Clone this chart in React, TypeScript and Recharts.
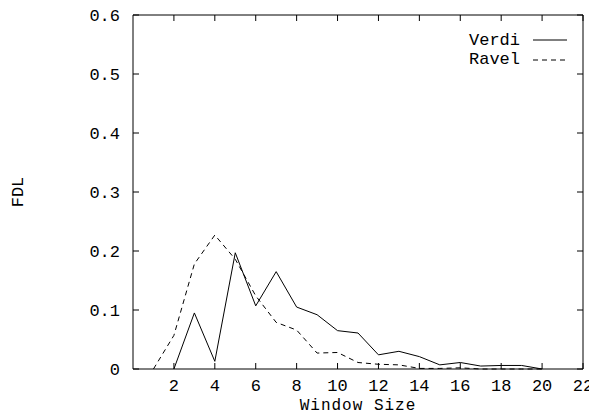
import { LineChart, Line, XAxis, YAxis, Legend } from 'recharts';

const windowSizes = [1, 2, 3, 4, 5, 6, 7, 8, 9, 10, 11, 12, 13, 14, 15, 16, 17, 18, 19, 20];
const verdiValues = [null, 0, 0.095, 0.013, 0.197, 0.107, 0.165, 0.105, 0.092, 0.065, 0.061, 0.024, 0.03, 0.021, 0.007, 0.011, 0.005, 0.006, 0.006, 0];
const ravelValues = [0, 0.057, 0.178, 0.227, 0.186, 0.124, 0.079, 0.066, 0.027, 0.028, 0.011, 0.008, 0.007, 0.001, 0.001, 0.002, 0, 0, 0, 0];

const xTicks = [2, 4, 6, 8, 10, 12, 14, 16, 18, 20, 22];
const yTicks = [0, 0.1, 0.2, 0.3, 0.4, 0.5, 0.6];

// Verdi hangs off the mirror axes (top/right) so they get drawn; same domains, so same placement
const series = [
  { key: 'verdi', name: 'Verdi', dash: undefined, xAxisId: 'top', yAxisId: 'right' },
  { key: 'ravel', name: 'Ravel', dash: '5 4', xAxisId: 'bottom', yAxisId: 'left' },
];

const data = windowSizes.map((x, i) => ({ x, verdi: verdiValues[i], ravel: ravelValues[i] }));

const FONT = "'Liberation Mono', 'Courier New', monospace";
const FONT_SIZE = 17;
const tickStyle = { fill: '#000', fontSize: FONT_SIZE, fontFamily: FONT };

const noTick = () => <g />;

const yFormat = (v: number) => (v === 0 ? '0' : v.toFixed(1));

const renderYLabel = (props: any) => {
  const { x, y, height } = props.viewBox;
  const cx = x + 10;
  const cy = y + height / 2;
  return (
    <text
      x={cx}
      y={cy}
      transform={`rotate(-90, ${cx}, ${cy})`}
      textAnchor='middle'
      dominantBaseline='central'
      fill='#000'
      fontSize={FONT_SIZE}
      fontFamily={FONT}
    >
      FDL
    </text>
  );
};

const renderLegend = () => (
  <svg width={200} height={50}>
    {series.map((s, i) => (
      <g key={s.key}>
        <text x={142} y={22 + i * 19} textAnchor='end' fontSize={FONT_SIZE} fontFamily={FONT} fill='#000'>
          {s.name}
        </text>
        <line x1={155} x2={189} y1={17 + i * 20} y2={17 + i * 20} stroke='#000' strokeWidth={1} strokeDasharray={s.dash} />
      </g>
    ))}
  </svg>
);

const App = () => {
  return (
    <LineChart width={589} height={406} data={data} margin={{ top: 6, right: 13, bottom: 0, left: 0 }}>
      <XAxis
        xAxisId='bottom'
        dataKey='x'
        type='number'
        domain={[0, 22]}
        ticks={xTicks}
        interval={0}
        height={45}
        stroke='#000'
        tickSize={-6}
        tickMargin={16}
        tick={tickStyle}
        label={{
          value: 'Window Size',
          position: 'insideBottom',
          offset: 4,
          fill: '#000',
          fontSize: 16,
          letterSpacing: 1,
          fontFamily: FONT,
        }}
      />
      <XAxis
        xAxisId='top'
        dataKey='x'
        orientation='top'
        type='number'
        domain={[0, 22]}
        ticks={xTicks}
        interval={0}
        height={1}
        stroke='#000'
        tickSize={-6}
        tick={noTick}
      />
      <YAxis
        yAxisId='left'
        type='number'
        domain={[0, 0.6]}
        ticks={yTicks}
        interval={0}
        width={125}
        stroke='#000'
        tickSize={-6}
        tickMargin={19}
        tick={tickStyle}
        tickFormatter={yFormat}
        label={renderYLabel}
      />
      <YAxis
        yAxisId='right'
        orientation='right'
        type='number'
        domain={[0, 0.6]}
        ticks={yTicks}
        interval={0}
        width={1}
        stroke='#000'
        tickSize={-6}
        tick={noTick}
      />
      <Legend
        layout='horizontal'
        verticalAlign='middle'
        align='center'
        content={renderLegend}
        wrapperStyle={{ top: 15, left: 370, width: 200, height: 50 }}
      />
      {series.map(s => (
        <Line
          key={s.key}
          xAxisId={s.xAxisId}
          yAxisId={s.yAxisId}
          dataKey={s.key}
          name={s.name}
          type='linear'
          stroke='#000'
          strokeWidth={1}
          strokeDasharray={s.dash}
          dot={false}
          activeDot={false}
          isAnimationActive={false}
        />
      ))}
    </LineChart>
  );
};

export default App;
